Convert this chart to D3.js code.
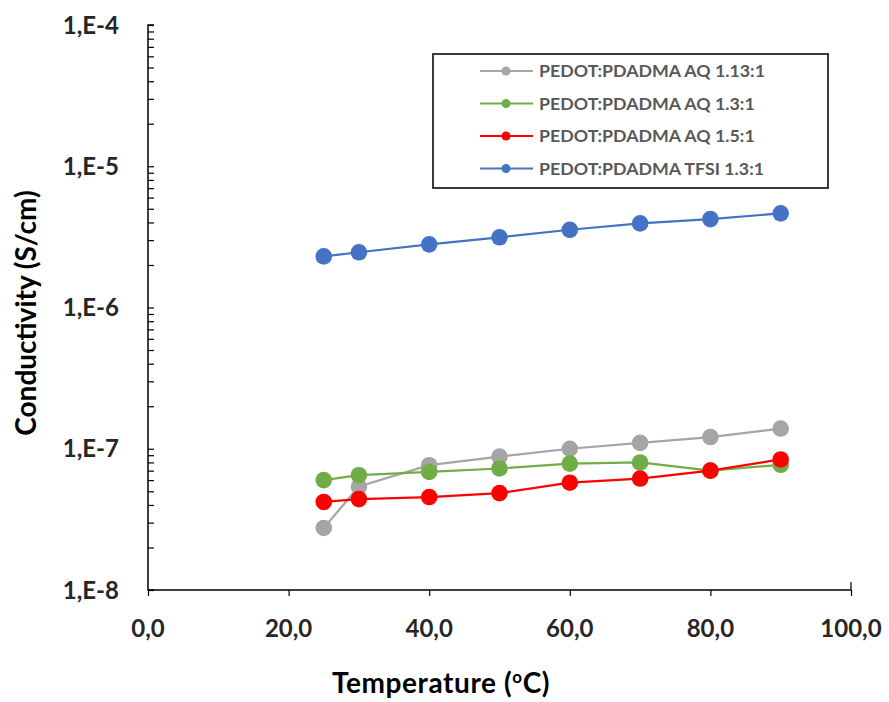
<!DOCTYPE html>
<html><head><meta charset="utf-8">
<script src="https://cdn.jsdelivr.net/npm/d3@7"></script>
<style>body{margin:0;background:#fff}svg{display:block}</style>
</head><body>
<svg id="c" width="889" height="702"></svg>
<script>
const temperature = [25, 30, 40, 50, 60, 70, 80, 90];
const aq113 = [2.75e-8, 5.4e-8, 7.65e-8, 8.8e-8, 1.0e-7, 1.1e-7, 1.21e-7, 1.39e-7];
const aq13  = [6.0e-8, 6.5e-8, 6.85e-8, 7.25e-8, 7.85e-8, 8.0e-8, 7.0e-8, 7.7e-8];
const aq15  = [4.2e-8, 4.4e-8, 4.55e-8, 4.85e-8, 5.75e-8, 6.15e-8, 7.0e-8, 8.4e-8];
const tfsi13 = [2.3e-6, 2.46e-6, 2.8e-6, 3.14e-6, 3.55e-6, 3.94e-6, 4.22e-6, 4.64e-6];
const seriesNames = ["PEDOT:PDADMA AQ 1.13:1", "PEDOT:PDADMA AQ 1.3:1", "PEDOT:PDADMA AQ 1.5:1", "PEDOT:PDADMA TFSI 1.3:1"];
const seriesColors = ["#A5A5A5", "#70AD47", "#FF0000", "#4472C4"];
const xTicks = [0, 20, 40, 60, 80, 100];
const yTicks = [1e-8, 1e-7, 1e-6, 1e-5, 1e-4];
const yTickLabels = ["1,E-8", "1,E-7", "1,E-6", "1,E-5", "1,E-4"];

const seriesValues = [aq113, aq13, aq15, tfsi13];
const svg = d3.select("#c");
const font = "Lato, 'Open Sans', sans-serif";
const x = d3.scaleLinear().domain([0, 100]).range([148, 851]);
const y = d3.scaleLog().domain([1e-8, 1e-4]).range([590, 25]);

// y axis
const yAxis = d3.axisRight(y).tickValues(
  d3.range(-8, -4).flatMap(e => d3.range(1, 10).map(m => m * Math.pow(10, e))).concat([1e-4])
).tickSize(6).tickFormat("");
const gy = svg.append("g").attr("transform", `translate(${x(0)},0)`).call(yAxis);
gy.select(".domain").attr("stroke", "#000").attr("stroke-width", 1.5).attr("d", `M6,${y(1e-4)}H0V${y(1e-8)}H6`);
gy.selectAll(".tick line").attr("stroke", "#000").attr("stroke-width", 1.2);

svg.append("g").selectAll("text").data(yTicks).join("text")
  .attr("x", 119).attr("y", d => y(d)).attr("dy", "0.36em")
  .attr("text-anchor", "end").attr("font-family", font).attr("font-weight", "bold")
  .attr("font-size", 24).attr("fill", "#262626")
  .text((d, i) => yTickLabels[i]);

// x axis
const xAxis = d3.axisBottom(x).tickValues(xTicks).tickSize(6).tickFormat("");
const gx = svg.append("g").attr("transform", `translate(0,${y(1e-8)})`).call(xAxis);
gx.select(".domain").attr("stroke", "#000").attr("stroke-width", 1.5).attr("d", `M${x(0)},0H${x(100)}`);
gx.selectAll(".tick line").attr("stroke", "#000").attr("stroke-width", 1.2);
svg.append("line").attr("x1", x(100)).attr("x2", x(100)).attr("y1", y(1e-8) - 8).attr("y2", y(1e-8)).attr("stroke", "#000").attr("stroke-width", 1.2);

svg.append("g").selectAll("text").data(xTicks).join("text")
  .attr("x", d => x(d)).attr("y", 637)
  .attr("text-anchor", "middle").attr("font-family", font).attr("font-weight", "bold")
  .attr("font-size", 24).attr("fill", "#262626")
  .text(d => d.toFixed(1).replace(".", ","));

// titles
const xt = svg.append("text").attr("x", 441).attr("y", 693).attr("text-anchor", "middle")
  .attr("font-family", font).attr("font-weight", "bold").attr("font-size", 28)
  .attr("letter-spacing", 0.6).attr("fill", "#000");
xt.append("tspan").text("Temperature (");
xt.append("tspan").attr("font-size", 17).attr("dy", -10).text("o");
xt.append("tspan").attr("dy", 10).text("C)");

svg.append("text").attr("transform", "translate(36,313) rotate(-90)").attr("text-anchor", "middle")
  .attr("font-family", font).attr("font-weight", "bold").attr("font-size", 28).attr("fill", "#000")
  .text("Conductivity (S/cm)");

// series
const line = d3.line().x((d, i) => x(temperature[i])).y(d => y(d));
seriesValues.forEach((vals, s) => {
  const g = svg.append("g");
  g.append("path").attr("d", line(vals)).attr("fill", "none")
    .attr("stroke", seriesColors[s]).attr("stroke-width", 2.2);
  g.selectAll("circle").data(vals).join("circle")
    .attr("cx", (d, i) => x(temperature[i])).attr("cy", d => y(d))
    .attr("r", 8.3).attr("fill", seriesColors[s]);
});

// legend
svg.append("rect").attr("x", 433).attr("y", 54).attr("width", 395).attr("height", 134)
  .attr("fill", "#fff").attr("stroke", "#262626").attr("stroke-width", 1.8);
const lg = svg.append("g").selectAll("g").data(seriesNames).join("g")
  .attr("transform", (d, i) => `translate(0,${71 + i * 32.5})`);
lg.append("line").attr("x1", 480).attr("x2", 533).attr("stroke", (d, i) => seriesColors[i]).attr("stroke-width", 2);
lg.append("circle").attr("cx", 506).attr("r", 4.5).attr("fill", (d, i) => seriesColors[i]);
lg.append("text").attr("x", 539).attr("dy", "0.36em").attr("font-family", font)
  .attr("font-weight", "bold").attr("font-size", 17.8).attr("fill", "#595959").text(d => d);
</script>
</body></html>
